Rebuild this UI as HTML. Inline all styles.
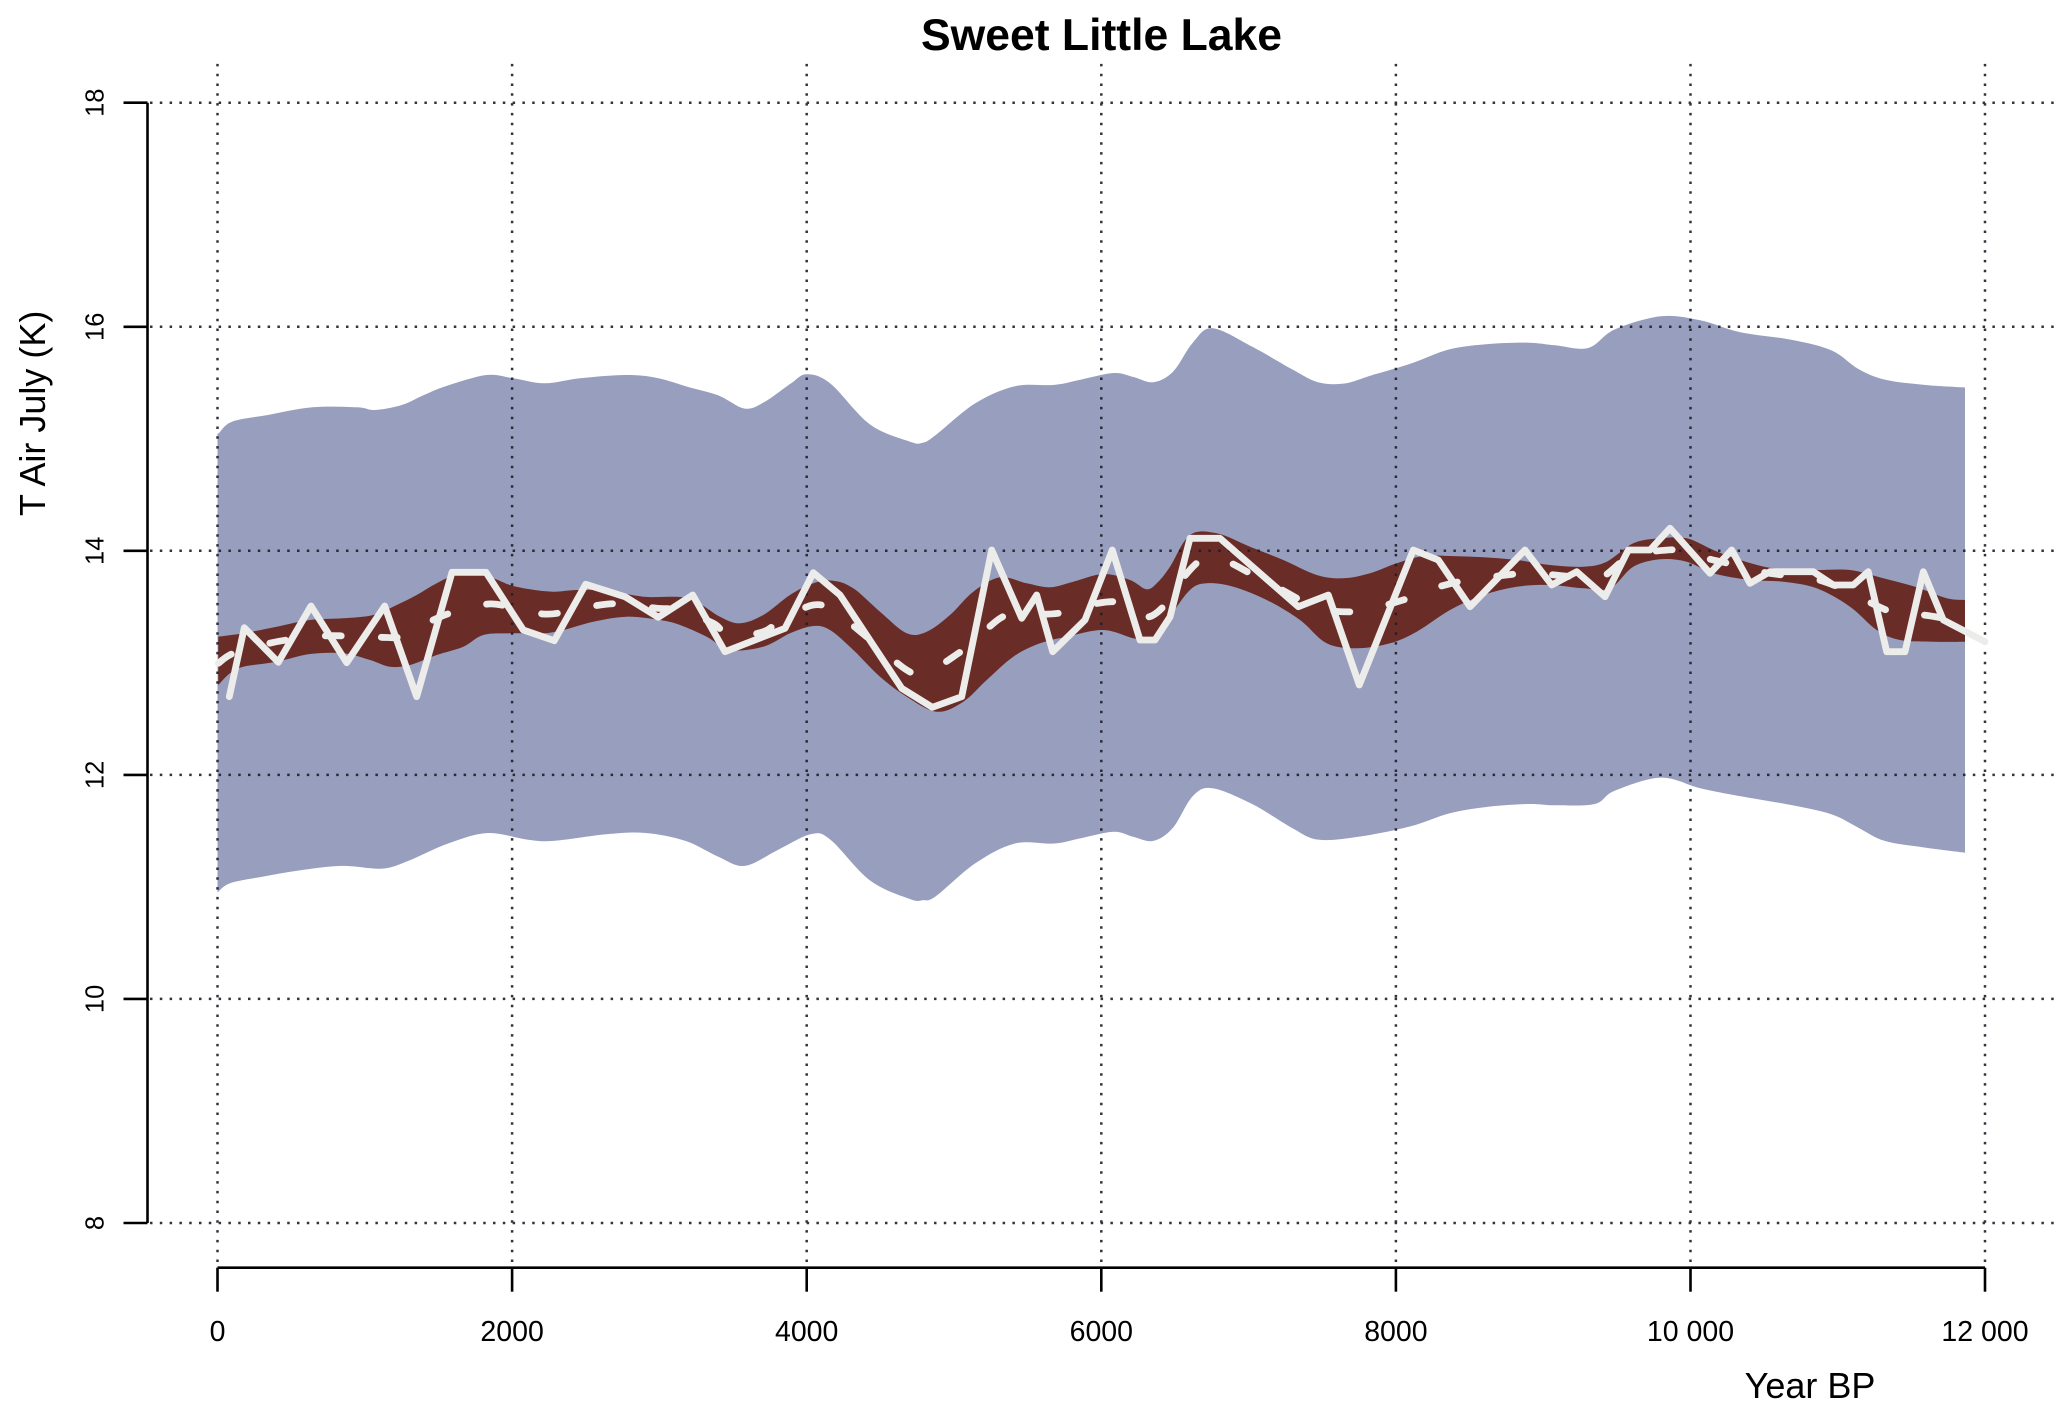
<!DOCTYPE html>
<html>
<head>
<meta charset="utf-8">
<style>
html,body{margin:0;padding:0;background:#fff;}
svg{display:block;}
text{font-family:"Liberation Sans",Arial,sans-serif;fill:#000;}
</style>
</head>
<body>
<svg width="2067" height="1417" viewBox="0 0 2067 1417" xmlns="http://www.w3.org/2000/svg">
<rect x="0" y="0" width="2067" height="1417" fill="#ffffff"/>

<!-- blue band -->
<polygon id="blueband" fill="#989fbe" points="
217.5,433 218.7,433.3 232,421.7 267.8,415 312.4,407.3 357,407.3 375,410 401.7,405 424,395 446.3,386 486.5,375 513.3,378.3 544.5,383.3 580,378.3 624.9,375 656,377.7 687.4,386.7 718.3,395.4 744.7,408.6 764.4,402 790.8,383.5 806.6,374.3 830.3,383.5 869.9,424.4 909.4,441.5 922.6,442.8 935.8,435 975.3,403.3 1014.9,386.2 1054.4,384.9 1080.8,379.6 1113.7,373 1133.5,377 1153.3,382.2 1173,371.7 1192.8,342.7 1212.6,328.2 1252.1,346.6 1291.6,369 1318,382.2 1344.4,383.5 1370.7,375.6 1410.3,363.8 1449.8,349.3 1489.3,344 1528.9,342.7 1555.2,345.3 1588.2,348 1614.6,329.5 1660.7,316.3 1700.2,320.3 1739.8,332.1 1792.5,340 1832,350.6 1858.4,369 1884.7,379.6 1924.3,384.9 1965,387.5
1965,852.7 1924.3,847.5 1884.7,840.9 1858.4,827.7 1832,814.5 1792.5,805.3 1739.8,796.1 1700.2,788.2 1660.7,777.6 1614.6,790.8 1594.8,804 1555.2,805.3 1528.9,804 1489.3,806.6 1449.8,813.2 1410.3,826.4 1357.5,836.9 1318,839.6 1291.6,827.7 1252.1,804 1212.6,788.2 1192.8,796.1 1173,827.7 1153.3,840.9 1133.5,836.9 1113.7,831.7 1080.8,838.2 1054.4,843.5 1014.9,843.5 975.3,863.3 935.8,896.2 922.6,900.2 909.4,898.9 869.9,880.4 830.3,839.6 810.6,834.3 777.6,850.1 744.7,865.9 718.3,856.7 685.4,840.9 645.8,833 606.3,834.3 553.6,840.9 527.2,839.6 487.7,833 448.1,843.5 408.6,860.7 382.2,868.6 342.7,865.9 303.1,869.9 263.6,876.5 230.7,883 217.5,892.3"/>

<!-- red band -->
<polygon id="redband" fill="#6a2c26" points="
218.3,636.7 243.3,633.3 276.7,626.7 310,620 343.3,618.3 373.3,615 396.7,605 416.7,595 436.7,583.3 456.7,575 486,576 510,585 530,589.3 553.3,591.7 576.7,590 610,590.7 643.3,596.7 680,597 696.7,601.7 720,616.7 740,623.3 763.3,615 790,595 813.3,583.3 833.3,580.7 853.3,588.3 880,611.7 906.7,633.3 926.7,631.7 950,615 973.3,591.7 1000,577.3 1026.7,583.3 1050,587.3 1073.3,581.7 1103.3,574 1130,580 1146.7,589.3 1158,582 1170,566.7 1190,535 1216.7,533.3 1250,546.7 1283.3,560 1316.7,575 1343.3,578.3 1370,573.3 1396.7,563.3 1423.3,556 1450,556 1483.3,557.3 1516.7,560 1550,565 1583.3,566.7 1606.7,561.7 1633.3,543.3 1660,538.3 1686.7,538.3 1713.3,550 1740,560 1773.3,568.3 1813.3,570 1850,570 1883.3,578.3 1916.7,587.3 1946.7,598.3 1965,600
1965,641.7 1933.3,641.7 1900,640 1876.7,630 1850,606.7 1816.7,588.3 1783.3,581.7 1750,580 1713.3,573.3 1686.7,561.7 1660,559.3 1633.3,566.7 1610,588.3 1583.3,588.3 1550,585 1516.7,586.7 1483.3,595 1450,610 1416.7,631.7 1390,643.3 1356.7,648.3 1326.7,643.3 1300,620 1266.7,600 1233.3,586.7 1206.7,583.3 1190,590 1170,616.7 1160,632 1150,640 1133.3,638.3 1103.3,630 1066.7,636.7 1040,643.3 1013.3,656.7 986.7,680 963.3,701.7 936.7,711.7 906.7,696.7 880,676.7 853.3,650 830,630 813.3,626 790,633.3 763.3,646.7 730,650 706.7,636.7 680,625 660,620 626.7,616.7 593.3,621.7 563.3,630 543.3,633.3 510,633.3 483.3,635 463.3,646.7 436.7,655 410,665 390,666.7 370,660 343.3,653.3 310,654 276.7,661.7 243.3,666.7 230,673.3 218.3,685"/>

<!-- grid -->
<g stroke="#1e1e28" stroke-width="2.5" stroke-dasharray="2.5 7.3" fill="none" opacity="0.9">
<line x1="150" y1="102.7" x2="2055" y2="102.7"/>
<line x1="150" y1="326.8" x2="2055" y2="326.8"/>
<line x1="150" y1="550.8" x2="2055" y2="550.8"/>
<line x1="150" y1="774.9" x2="2055" y2="774.9"/>
<line x1="150" y1="998.9" x2="2055" y2="998.9"/>
<line x1="150" y1="1223" x2="2055" y2="1223"/>
<line x1="217.5" y1="1262" x2="217.5" y2="57"/>
<line x1="512.1" y1="1262" x2="512.1" y2="57"/>
<line x1="806.7" y1="1262" x2="806.7" y2="57"/>
<line x1="1101.3" y1="1262" x2="1101.3" y2="57"/>
<line x1="1395.9" y1="1262" x2="1395.9" y2="57"/>
<line x1="1690.5" y1="1262" x2="1690.5" y2="57"/>
<line x1="1985" y1="1262" x2="1985" y2="57"/>
</g>

<!-- dashed median line -->
<polyline id="dashline" fill="none" stroke="#ececea" stroke-width="6.8" stroke-linecap="round" stroke-linejoin="round" stroke-dasharray="16 40" points="
218.3,663.3 233.3,653.3 266.7,644 286.7,640 323.3,636 346.7,636 380,637.3 403.3,636 433.3,620 455,611.7 488.3,604 511.7,607.3 543.3,614 566.7,611.7 600,605 623.3,604 656.7,608.3 680,610 713.3,623.3 730,636 763.3,631.7 781.7,619.3 813.3,605 833.3,610.7 861.7,632.7 906.7,670 926.7,672.7 958.3,653.3 973.3,641.7 1001.7,617.3 1021.7,615 1058.3,613.3 1078.3,607.3 1113.3,601.7 1133.3,610 1148,617 1163.3,606.7 1175,588.3 1200,560.7 1221.7,559.3 1253.3,575 1273.3,585 1303.3,601.7 1323.3,610 1358.3,611.7 1380,606.7 1413.3,596.7 1433.3,588.3 1466.7,580 1488.3,577.3 1523.3,573.3 1543.3,574 1580,577.3 1601.7,577.3 1628.3,556.7 1650,551.7 1685,550 1706.7,558.3 1743.3,566.7 1760,571.7 1795,576.7 1816.7,579.3 1850,591.7 1868.3,601.7 1900,615 1923.3,615 1953.3,620 1965,621.7"/>

<!-- solid line -->
<polyline fill="none" stroke="#ececea" stroke-width="6.8" stroke-linecap="round" stroke-linejoin="round" points="
229.3,696.7 244.3,627.7 278.3,662.3 311,606 346.7,662.7 384.7,606 416.7,696.7 452,572.3 486,572.3 523.3,630 554.3,640.7 585.7,584.3 625,596.7 658.3,617.3 692.7,595 725,651.7 785,628.3 813.3,572.7 840,595 901.7,688.3 932.3,707.3 961.7,696.7 991.7,550 1021.7,618.3 1036.7,595 1052.7,651.7 1085,620 1112.3,550 1140,640 1155,640 1170,617 1190,538.3 1220,538.3 1298.3,606.7 1328.3,595 1359.3,685 1413.3,550 1438.3,560 1470,606.7 1525,550 1551.7,585 1576.7,571.7 1605,596.7 1628.3,550 1650,550 1670,528.3 1710,573.3 1731.7,550 1750,583.3 1770,571.7 1813.3,571.7 1833.3,585 1853.3,585 1868.3,571.7 1886.7,651.7 1905,651.7 1923.3,571.7 1943.3,620 1985,641.7"/>

<!-- axes -->
<g stroke="#000" stroke-width="2.6" fill="none">
<line x1="147.5" y1="102.7" x2="147.5" y2="1223"/>
<line x1="123.5" y1="102.7" x2="147.5" y2="102.7"/>
<line x1="123.5" y1="326.8" x2="147.5" y2="326.8"/>
<line x1="123.5" y1="550.8" x2="147.5" y2="550.8"/>
<line x1="123.5" y1="774.9" x2="147.5" y2="774.9"/>
<line x1="123.5" y1="998.9" x2="147.5" y2="998.9"/>
<line x1="123.5" y1="1223" x2="147.5" y2="1223"/>
<line x1="217.5" y1="1267.7" x2="1985" y2="1267.7"/>
<line x1="217.5" y1="1267.7" x2="217.5" y2="1291.7"/>
<line x1="512.1" y1="1267.7" x2="512.1" y2="1291.7"/>
<line x1="806.7" y1="1267.7" x2="806.7" y2="1291.7"/>
<line x1="1101.3" y1="1267.7" x2="1101.3" y2="1291.7"/>
<line x1="1395.9" y1="1267.7" x2="1395.9" y2="1291.7"/>
<line x1="1690.5" y1="1267.7" x2="1690.5" y2="1291.7"/>
<line x1="1985" y1="1267.7" x2="1985" y2="1291.7"/>
</g>

<!-- y tick labels -->
<g font-size="25.5" text-anchor="middle">
<text transform="translate(103.5,102.7) rotate(-90)">18</text>
<text transform="translate(103.5,326.8) rotate(-90)">16</text>
<text transform="translate(103.5,550.8) rotate(-90)">14</text>
<text transform="translate(103.5,774.9) rotate(-90)">12</text>
<text transform="translate(103.5,998.9) rotate(-90)">10</text>
<text transform="translate(103.5,1223) rotate(-90)">8</text>
</g>

<!-- x tick labels -->
<g font-size="28.5" text-anchor="middle">
<text x="217.5" y="1341">0</text>
<text x="512.1" y="1341">2000</text>
<text x="806.7" y="1341">4000</text>
<text x="1101.3" y="1341">6000</text>
<text x="1395.9" y="1341">8000</text>
<text x="1690.5" y="1341">10 000</text>
<text x="1985" y="1341">12 000</text>
</g>

<!-- titles -->
<text x="1101.5" y="50" font-size="44.5" font-weight="bold" text-anchor="middle">Sweet Little Lake</text>
<text transform="translate(45,413.3) rotate(-90)" font-size="36" text-anchor="middle">T Air July (K)</text>
<text x="1810" y="1398" font-size="36" text-anchor="middle">Year BP</text>
</svg>
<script>
(function(){
  var NS="http://www.w3.org/2000/svg";
  function parse(el){
    var a=el.getAttribute("points").trim().split(/\s+/);
    var p=[];
    for(var i=0;i<a.length;i++){var c=a[i].split(",");if(c.length==2)p.push([+c[0],+c[1]]);}
    return p;
  }
  function f(v){return v.toFixed(2);}
  function cr(pts){
    var d="",n=pts.length;
    for(var i=0;i<n-1;i++){
      var p0=pts[Math.max(i-1,0)],p1=pts[i],p2=pts[i+1],p3=pts[Math.min(i+2,n-1)];
      var c1=[p1[0]+(p2[0]-p0[0])/6,p1[1]+(p2[1]-p0[1])/6];
      var c2=[p2[0]-(p3[0]-p1[0])/6,p2[1]-(p3[1]-p1[1])/6];
      d+=" C"+f(c1[0])+","+f(c1[1])+" "+f(c2[0])+","+f(c2[1])+" "+f(p2[0])+","+f(p2[1]);
    }
    return d;
  }
  function band(id){
    var el=document.getElementById(id); if(!el)return;
    var p=parse(el),k=0;
    for(var i=0;i<p.length-1;i++){if(p[i+1][0]<=p[i][0]){k=i;break;}}
    if(!k)return;
    var up=p.slice(0,k+1),lo=p.slice(k+1);
    var d="M"+f(up[0][0])+","+f(up[0][1])+cr(up)+" L"+f(lo[0][0])+","+f(lo[0][1])+cr(lo)+" Z";
    var path=document.createElementNS(NS,"path");
    path.setAttribute("d",d);
    path.setAttribute("fill",el.getAttribute("fill"));
    el.parentNode.replaceChild(path,el);
  }
  function line(id){
    var el=document.getElementById(id); if(!el)return;
    var p=parse(el);
    var d="M"+f(p[0][0])+","+f(p[0][1])+cr(p);
    var path=document.createElementNS(NS,"path");
    path.setAttribute("d",d);
    ["fill","stroke","stroke-width","stroke-linecap","stroke-linejoin","stroke-dasharray"].forEach(function(a){
      if(el.getAttribute(a)!==null)path.setAttribute(a,el.getAttribute(a));
    });
    el.parentNode.replaceChild(path,el);
  }
  try{band("blueband");band("redband");line("dashline");}catch(e){}
})();
</script>
</body>
</html>
